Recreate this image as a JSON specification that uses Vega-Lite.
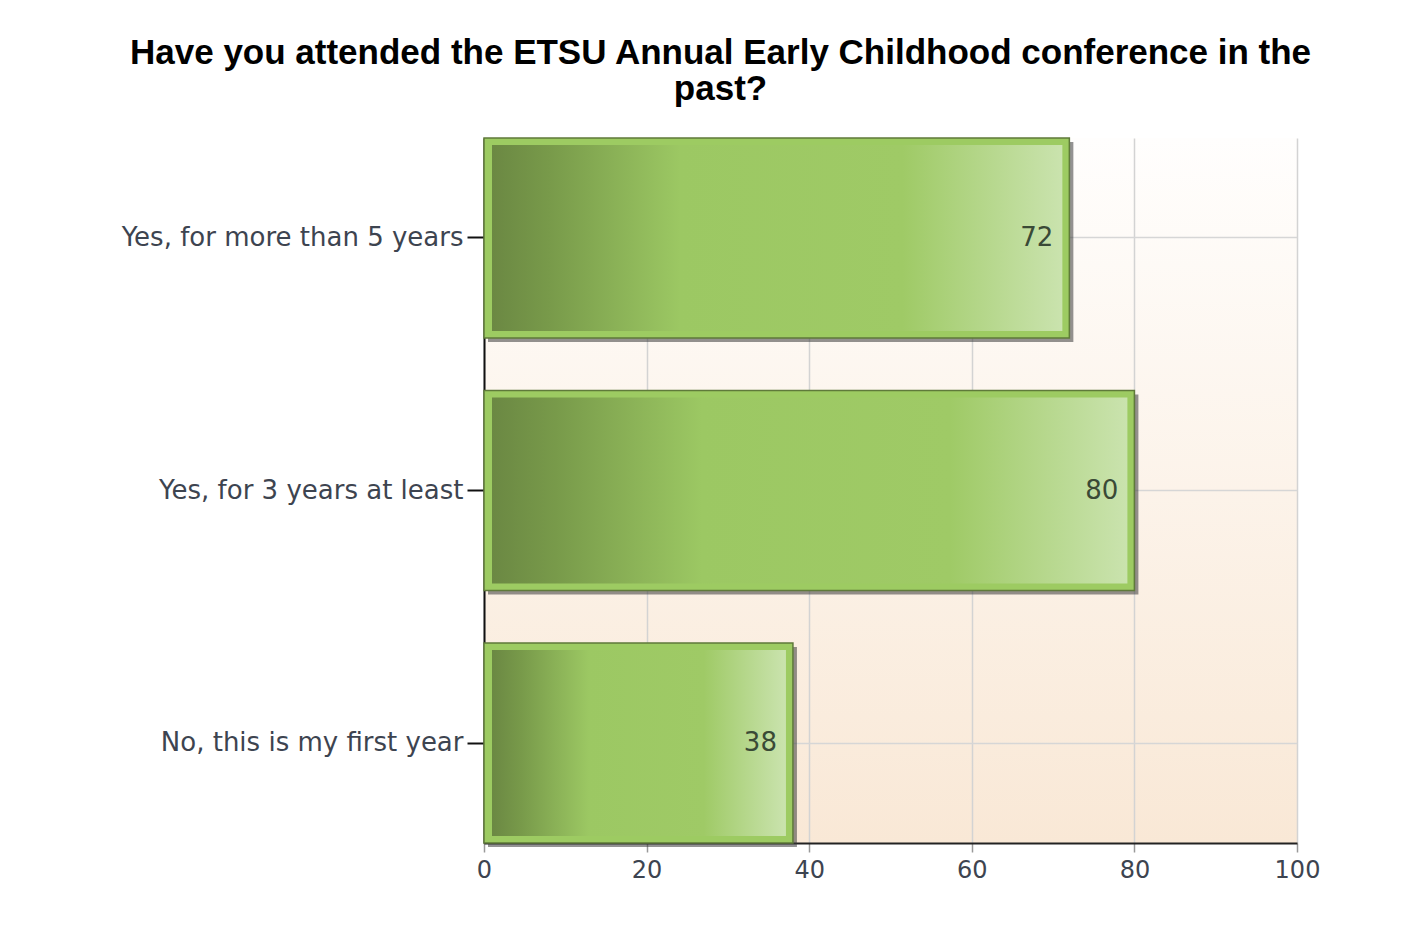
{
  "$schema": "https://vega.github.io/schema/vega-lite/v6.json",
  "autosize": {"type": "none"},
  "width": 813,
  "height": 705,
  "padding": {"left": 484, "top": 138, "right": 106, "bottom": 85},
  "background": "#ffffff",
  "title": {
    "text": ["Have you attended the ETSU Annual Early Childhood conference in the", "past?"],
    "font": "Liberation Sans",
    "fontWeight": "bold",
    "fontSize": 35,
    "color": "#000000",
    "anchor": "middle",
    "frame": "bounds",
    "lineHeight": 36,
    "offset": 30
  },
  "data": {
    "values": [
      {"answer": "Yes, for more than 5 years", "count": 72},
      {"answer": "Yes, for 3 years at least", "count": 80},
      {"answer": "No, this is my first year", "count": 38}
    ]
  },
  "encoding": {
    "y": {
      "field": "answer",
      "type": "nominal",
      "sort": ["Yes, for more than 5 years", "Yes, for 3 years at least", "No, this is my first year"],
      "scale": {"paddingInner": 0.208, "paddingOuter": 0},
      "axis": {
        "title": null,
        "grid": true,
        "bandPosition": 0.5,
        "gridColor": "#d6d6d6",
        "gridWidth": 1.5,
        "domainColor": "#111111",
        "domainWidth": 2,
        "tickColor": "#111111",
        "tickWidth": 2,
        "tickSize": 17,
        "labelPadding": 4,
        "labelLimit": 0,
        "labelFont": "DejaVu Sans",
        "labelFontSize": 26,
        "labelColor": "#3d4450"
      }
    },
    "x": {
      "field": "count",
      "type": "quantitative",
      "scale": {"domain": [0, 100], "nice": false},
      "axis": {
        "title": null,
        "values": [0, 20, 40, 60, 80, 100],
        "grid": true,
        "gridColor": "#d3d3d3",
        "gridWidth": 1.5,
        "domainColor": "#222222",
        "domainWidth": 2,
        "tickColor": "#999999",
        "tickWidth": 1.5,
        "tickSize": 9,
        "labelPadding": 6,
        "labelFlush": false,
        "labelFont": "DejaVu Sans",
        "labelFontSize": 24,
        "labelColor": "#3d4450"
      }
    }
  },
  "layer": [
    {
      "mark": {"type": "bar", "fill": "#3a3a3a", "opacity": 0.55, "xOffset": 4, "yOffset": 4}
    },
    {
      "mark": {"type": "bar", "fill": "#9dcb62", "stroke": "#5f7a3a", "strokeWidth": 1.5}
    },
    {
      "mark": {
        "type": "bar",
        "height": 186,
        "xOffset": -7,
        "x2Offset": 8,
        "fill": {
          "gradient": "linear",
          "x1": 0, "y1": 0, "x2": 1, "y2": 0,
          "stops": [
            {"offset": 0, "color": "#6b8843"},
            {"offset": 0.1, "color": "#789a4a"},
            {"offset": 0.33, "color": "#9cc863"},
            {"offset": 0.72, "color": "#9fca66"},
            {"offset": 1, "color": "#cae3ae"}
          ]
        }
      },
      "encoding": {"x2": {"datum": 0}}
    },
    {
      "mark": {
        "type": "text",
        "align": "right",
        "baseline": "middle",
        "xOffset": -16,
        "font": "DejaVu Sans",
        "fontSize": 26,
        "color": "#3a4a36"
      },
      "encoding": {"text": {"field": "count", "type": "quantitative"}}
    }
  ],
  "config": {
    "view": {
      "stroke": null,
      "fill": {
        "gradient": "linear",
        "x1": 0, "y1": 0, "x2": 0, "y2": 1,
        "stops": [
          {"offset": 0, "color": "#fffefd"},
          {"offset": 1, "color": "#f9e8d6"}
        ]
      }
    }
  }
}
